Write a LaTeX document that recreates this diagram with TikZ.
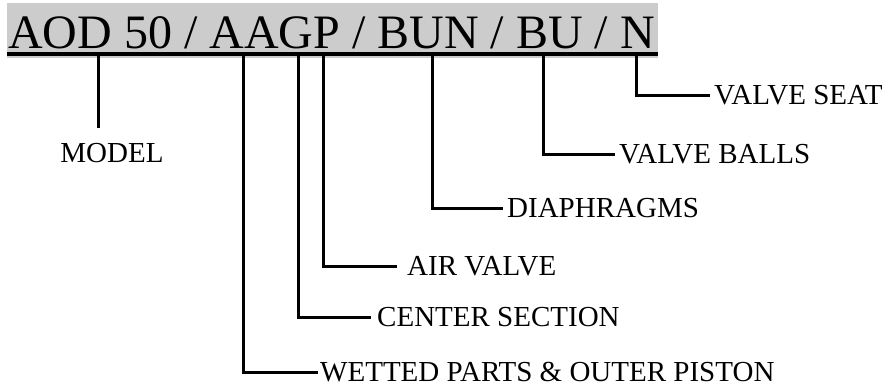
\documentclass[tikz,border=0pt]{standalone}
\usepackage{fontspec}
\setmainfont{Liberation Serif}
\begin{document}
\begin{tikzpicture}[x=1pt,y=-1pt,
  conn/.style={line width=3pt, line join=miter},
  lbl/.style={anchor=west, inner ysep=0pt, inner xsep=4pt, font=\fontsize{29}{29}\selectfont, text height=19.2pt, text depth=0pt},
  titletext/.style={anchor=base west, inner sep=0pt, font=\fontsize{48}{48}\selectfont}]
\useasboundingbox (0,0) rectangle (894,388);
% title band
\fill[black!20] (7,3) rectangle (658,58);
\node[titletext] (title) at (8,48) {AOD 50 / AAGP / BUN / BU / N};
\draw[line width=4pt] (7,54) -- (658,54);
% top ends of connectors
\coordinate (tm) at (98,54);
\coordinate (tw) at (243,54);
\coordinate (tc) at (298,54);
\coordinate (ta) at (323,54);
\coordinate (td) at (432,54);
\coordinate (tb) at (543,54);
\coordinate (ts) at (636,54);
\coordinate (em) at (98,128);
% labels
\node[lbl, anchor=center, inner xsep=0pt] (model) at (112,153) {MODEL};
\node[lbl, inner xsep=2pt] (wet) at (318,372) {WETTED PARTS \& OUTER PISTON};
\node[lbl, inner xsep=6pt] (cen) at (371,317) {CENTER SECTION};
\node[lbl, inner xsep=10pt] (air) at (397,266) {AIR VALVE};
\node[lbl] (dia) at (503,208) {DIAPHRAGMS};
\node[lbl] (bal) at (615,154) {VALVE BALLS};
\node[lbl] (sea) at (710,95) {VALVE SEAT};
% connectors
\draw[conn] (tm) -- (em);
\draw[conn] (tw) |- (wet.west);
\draw[conn] (tc) |- (cen.west);
\draw[conn] (ta) |- (air.west);
\draw[conn] (td) |- (dia.west);
\draw[conn] (tb) |- (bal.west);
\draw[conn] (ts) |- (sea.west);
\end{tikzpicture}
\end{document}
